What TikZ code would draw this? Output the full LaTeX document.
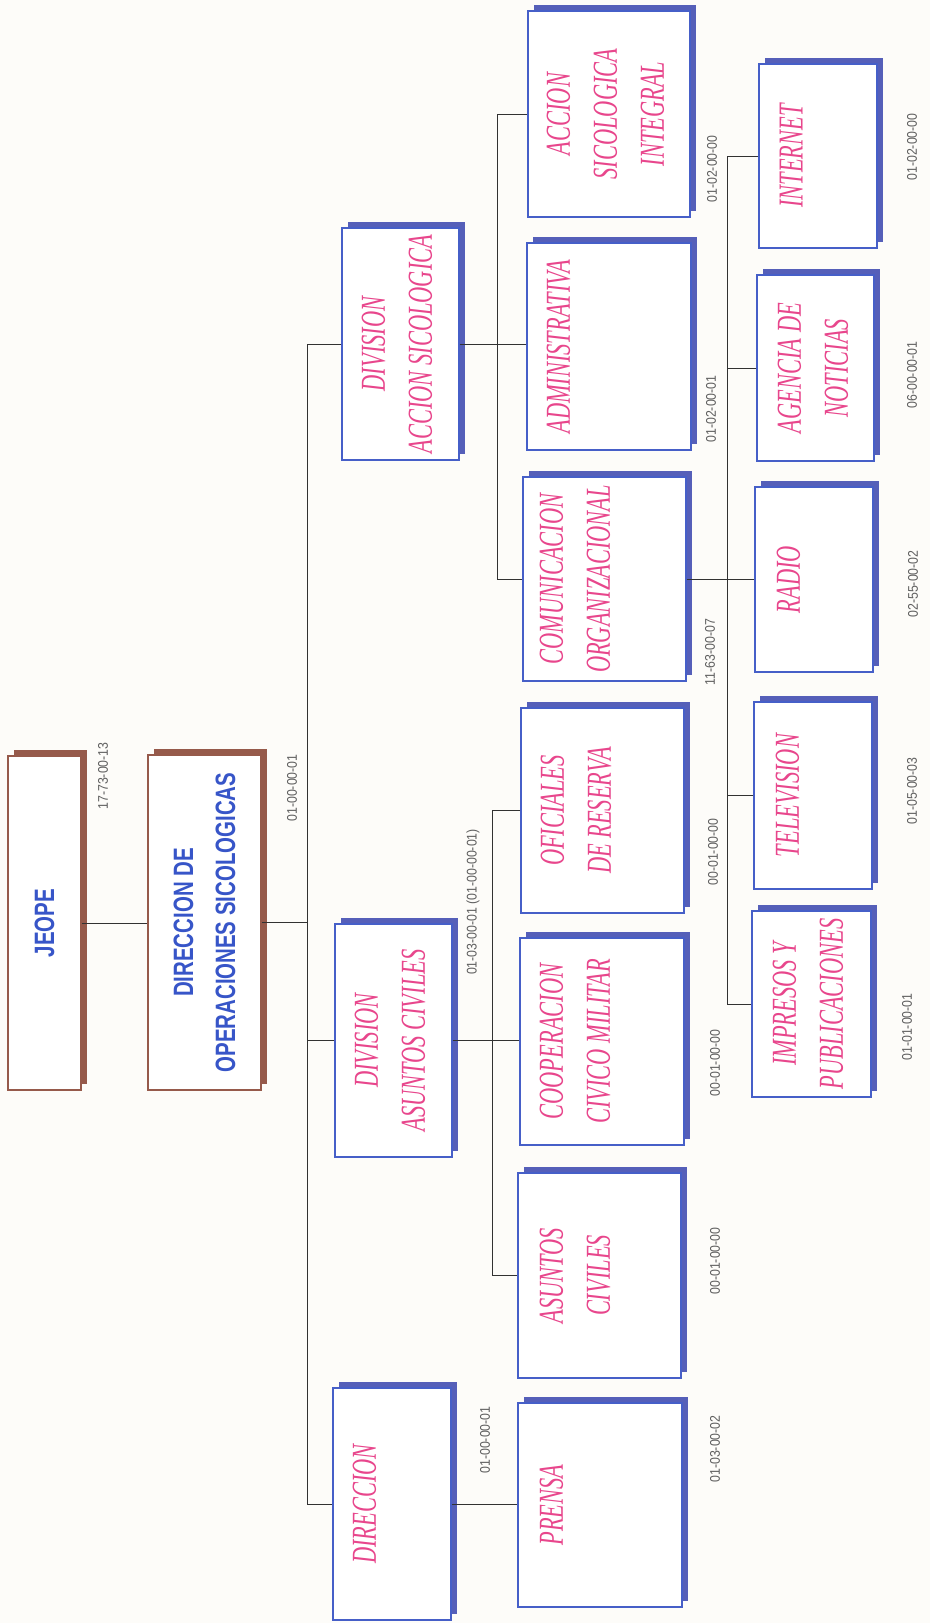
\documentclass[tikz,border=0pt]{standalone}
\usepackage{fontspec}
\setmainfont{Liberation Serif}
\setsansfont{Liberation Sans}
\usetikzlibrary{shadows}

\definecolor{paper}{RGB}{253,252,249}
\definecolor{boxblue}{RGB}{70,95,200}
\definecolor{shadeblue}{RGB}{85,95,185}
\definecolor{boxbrown}{RGB}{150,90,75}
\definecolor{headblue}{RGB}{55,85,200}
\definecolor{unitpink}{RGB}{232,70,140}
\definecolor{codegray}{RGB}{95,95,95}
\definecolor{wiregray}{RGB}{50,50,50}

\begin{document}
\begin{tikzpicture}[x=1pt, y=-1pt,
  ubox/.style={draw=boxblue, line width=1.2pt, fill=white, inner sep=0pt,
    drop shadow={shadow xshift=6pt, shadow yshift=6pt, fill=shadeblue, opacity=1}},
  hbox/.style={draw=boxbrown, line width=1.2pt, fill=white, inner sep=0pt,
    drop shadow={shadow xshift=6pt, shadow yshift=6pt, fill=boxbrown, opacity=1}},
  htext/.style={rotate=90, xscale=.73, align=center, inner sep=0pt, text=headblue,
    font=\fontsize{28}{42}\selectfont\sffamily\bfseries},
  utext/.style={rotate=90, xscale=.64, anchor=north, align=center, inner sep=0pt,
    text=unitpink, font=\fontsize{35}{47}\selectfont\itshape},
  code/.style={rotate=90, xscale=.88, inner sep=0pt, text=codegray,
    font=\fontsize{14}{16}\selectfont\sffamily},
  wire/.style={draw=wiregray, line width=.9pt}]

\fill[paper] (0,0) rectangle (930,1623);

% jefatura y direccion
\node[hbox, minimum width=73pt, minimum height=334pt] (jeope) at (44.5,923) {};
\node[htext] (jeope-t) at (jeope) {JEOPE};
\node[hbox, minimum width=113pt, minimum height=335pt] (dops) at (204.5,922.5) {};
\node[htext] (dops-t) at (dops) {DIRECCION DE\\OPERACIONES SICOLOGICAS};

% divisiones
\node[ubox, minimum width=117pt, minimum height=232pt] (divacc) at (400.5,344) {};
\node[utext] (divacc-t) at ([xshift=20pt]divacc.west) {DIVISION\\ACCION SICOLOGICA};
\node[ubox, minimum width=117pt, minimum height=233pt] (divciv) at (393.5,1040.5) {};
\node[utext] (divciv-t) at ([xshift=20pt]divciv.west) {DIVISION\\ASUNTOS CIVILES};
\node[ubox, minimum width=118pt, minimum height=232pt] (direccion) at (392,1504) {};
\node[utext] (direccion-t) at ([xshift=20pt]direccion.west) {DIRECCION};

% secciones
\node[ubox, minimum width=162pt, minimum height=206pt] (asi) at (609,114) {};
\node[utext] (asi-t) at ([xshift=19pt]asi.west) {ACCION\\SICOLOGICA\\INTEGRAL};
\node[ubox, minimum width=164pt, minimum height=207pt] (admin) at (609,346.5) {};
\node[utext] (admin-t) at ([xshift=20pt]admin.west) {ADMINISTRATIVA};
\node[ubox, minimum width=163pt, minimum height=204pt] (comun) at (604.5,579) {};
\node[utext] (comun-t) at ([xshift=17pt]comun.west) {COMUNICACION\\ORGANIZACIONAL};
\node[ubox, minimum width=163pt, minimum height=205pt] (ofic) at (602.5,810.5) {};
\node[utext] (ofic-t) at ([xshift=20pt]ofic.west) {OFICIALES\\DE RESERVA};
\node[ubox, minimum width=164pt, minimum height=207pt] (coop) at (602,1041.5) {};
\node[utext] (coop-t) at ([xshift=20pt]coop.west) {COOPERACION\\CIVICO MILITAR};
\node[ubox, minimum width=163pt, minimum height=205pt] (ascv) at (599.5,1275.5) {};
\node[utext] (ascv-t) at ([xshift=22pt]ascv.west) {ASUNTOS\\CIVILES};
\node[ubox, minimum width=164pt, minimum height=204pt] (prensa) at (600,1505) {};
\node[utext] (prensa-t) at ([xshift=22pt]prensa.west) {PRENSA};

% medios
\node[ubox, minimum width=118pt, minimum height=184pt] (internet) at (818,156) {};
\node[utext] (internet-t) at ([xshift=21pt]internet.west) {INTERNET};
\node[ubox, minimum width=117pt, minimum height=186pt] (agencia) at (815.5,368) {};
\node[utext] (agencia-t) at ([xshift=21pt]agencia.west) {AGENCIA DE\\NOTICIAS};
\node[ubox, minimum width=118pt, minimum height=185pt] (radio) at (814,579.5) {};
\node[utext] (radio-t) at ([xshift=22pt]radio.west) {RADIO};
\node[ubox, minimum width=118pt, minimum height=187pt] (tele) at (813,795.5) {};
\node[utext] (tele-t) at ([xshift=22pt]tele.west) {TELEVISION};
\node[ubox, minimum width=119pt, minimum height=186pt] (impresos) at (811.5,1004) {};
\node[utext] (impresos-t) at ([xshift=21pt]impresos.west) {IMPRESOS Y\\PUBLICACIONES};

% lineas de mando
\draw[wire] (jeope.east) -- (jeope.east -| dops.west);
\coordinate (bus1) at (307,0);
\draw[wire] (dops.east) -- (dops.east -| bus1);
\draw[wire] (divacc.west) -- (divacc.west -| bus1) |- (direccion.west);
\draw[wire] (divciv.west) -- (divciv.west -| bus1);

\coordinate (bus2) at (497,0);
\draw[wire] (divacc.east) -- (divacc.east -| admin.west);
\draw[wire] (asi.west) -- (asi.west -| bus2) |- (comun.west);

\coordinate (bus3) at (492,0);
\draw[wire] (divciv.east) -- (divciv.east -| coop.west);
\draw[wire] (ofic.west) -- (ofic.west -| bus3) |- (ascv.west);
\draw[wire] (direccion.east) -- (direccion.east -| prensa.west);

\coordinate (bus4) at (727,0);
\draw[wire] (comun.east) -- (comun.east -| radio.west);
\draw[wire] (internet.west) -- (internet.west -| bus4) |- (impresos.west);
\draw[wire] (agencia.west) -- (agencia.west -| bus4);
\draw[wire] (tele.west) -- (tele.west -| bus4);

% codigos
\node[code] (c-jeope) at (103,776) {17-73-00-13};
\node[code] (c-dops) at (292,788) {01-00-00-01};
\node[code] (c-divciv) at (473,902) {01-03-00-01 (01-00-00-01)};
\node[code] (c-direccion) at (485,1440) {01-00-00-01};
\node[code] (c-inbus) at (712,169) {01-02-00-00};
\node[code] (c-agbus) at (711,409) {01-02-00-01};
\node[code] (c-comun) at (710,652) {11-63-00-07};
\node[code] (c-ofic) at (713,852) {00-01-00-00};
\node[code] (c-coop) at (715,1063) {00-01-00-00};
\node[code] (c-ascv) at (715,1261) {00-01-00-00};
\node[code] (c-prensa) at (715,1449) {01-03-00-02};
\node[code] (c-internet) at (912,147) {01-02-00-00};
\node[code] (c-agencia) at (912,375) {06-00-00-01};
\node[code] (c-radio) at (913,584) {02-55-00-02};
\node[code] (c-tele) at (912,791) {01-05-00-03};
\node[code] (c-impresos) at (907,1027) {01-01-00-01};
\end{tikzpicture}
\end{document}
